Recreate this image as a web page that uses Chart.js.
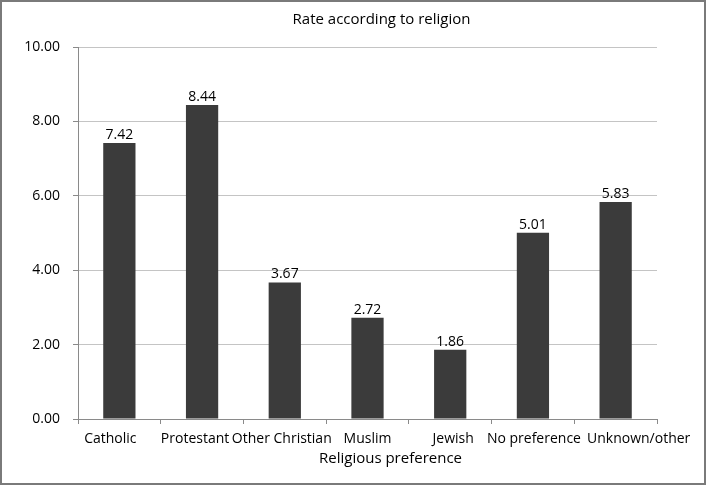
<!DOCTYPE html>
<html>
<head>
<meta charset="utf-8">
<script src="https://cdn.jsdelivr.net/npm/chart.js@4/dist/chart.umd.min.js"></script>
<style>
  html, body { margin: 0; padding: 0; background: #fff; }
  #wrap { width: 706px; height: 485px; }
</style>
</head>
<body>
<div id="wrap"><canvas id="chart" width="706" height="485"></canvas></div>
<script>
// Daten
const categories = ["Catholic", "Protestant", "Other Christian", "Muslim", "Jewish", "No preference", "Unknown/other"];
const rates = [7.42, 8.44, 3.67, 2.72, 1.86, 5.01, 5.83];
const yTicks = [0, 2, 4, 6, 8, 10];

const titleText = "Rate according to religion";
const xTitleText = "Religious preference";
const fontName = "'Open Sans', 'DejaVu Sans', sans-serif";

// Beschriftungen leicht verschieben, damit sie sich nicht überlappen (wie im Original)
const labelShift = [-9, -7, -3, 0, 3, 1, 23];

// Werte über den Balken, Achsenbeschriftung, Titel und Rahmen
const extras = {
  id: "extras",
  afterDatasetsDraw(chart) {
    const ctx = chart.ctx;
    const meta = chart.getDatasetMeta(0);
    ctx.save();
    ctx.fillStyle = "#000";
    ctx.font = "14px " + fontName;
    ctx.textAlign = "center";
    ctx.textBaseline = "bottom";
    meta.data.forEach((bar, i) => {
      ctx.fillText(rates[i].toFixed(2), bar.x, bar.y - 1);
    });
    ctx.restore();
  },
  afterDraw(chart) {
    const ctx = chart.ctx;
    const area = chart.chartArea;
    const xScale = chart.scales.x;
    const mid = (area.left + area.right) / 2;
    ctx.save();
    ctx.fillStyle = "#000";
    ctx.textAlign = "center";
    ctx.textBaseline = "alphabetic";

    // Kategorien
    ctx.font = "14px " + fontName;
    categories.forEach((c, i) => {
      ctx.fillText(c, xScale.getPixelForValue(i) + labelShift[i], area.bottom + 24);
    });

    ctx.font = "15px " + fontName;
    ctx.fillText(titleText, mid + 14, 24);
    ctx.fillText(xTitleText, mid + 23, 463);

    // Rahmen
    ctx.strokeStyle = "#7a7a7a";
    ctx.lineWidth = 2;
    ctx.strokeRect(1, 1, chart.width - 2, chart.height - 2);
    ctx.restore();
  }
};

const ctx = document.getElementById("chart").getContext("2d");
new Chart(ctx, {
  type: "bar",
  data: {
    labels: categories,
    datasets: [{
      data: rates,
      backgroundColor: "#3b3b3b",
      borderWidth: 0,
      barPercentage: 0.39,
      categoryPercentage: 1.0
    }]
  },
  options: {
    responsive: false,
    animation: false,
    layout: { padding: { left: 0, right: 49, top: 47, bottom: 0 } },
    plugins: {
      legend: { display: false },
      title: { display: false },
      tooltip: { enabled: false }
    },
    scales: {
      x: {
        offset: true,
        afterFit: (scale) => { scale.height = 66; },
        grid: {
          offset: true,
          drawOnChartArea: false,
          color: "#8a8a8a",
          tickLength: 5
        },
        border: { color: "#8a8a8a", width: 1 },
        ticks: {
          display: false,
          autoSkip: false
        }
      },
      y: {
        min: 0,
        max: 10,
        afterFit: (scale) => { scale.width = 78; },
        afterBuildTicks: (scale) => { scale.ticks = yTicks.map(v => ({ value: v })); },
        grid: {
          color: "#c4c4c4",
          tickColor: "#8a8a8a",
          tickLength: 5
        },
        border: { color: "#8a8a8a", width: 1 },
        ticks: {
          color: "#000",
          font: { family: fontName, size: 14 },
          padding: 13,
          callback: (v) => Number(v).toFixed(2)
        }
      }
    }
  },
  plugins: [extras]
});
</script>
</body>
</html>
